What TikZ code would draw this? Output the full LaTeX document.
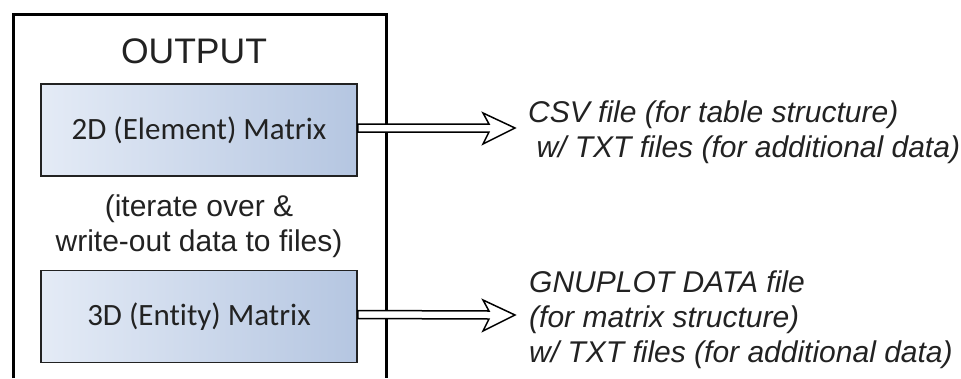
\documentclass[tikz,border=0pt]{standalone}
\usepackage{fontspec}
\setmainfont{Liberation Sans}
\newfontfamily\boxfont[Ligatures={NoCommon,NoRare}]{Carlito}
\usetikzlibrary{calc}
\definecolor{ink}{HTML}{222222}
\definecolor{boxleft}{HTML}{E4EBF6}
\definecolor{boxright}{HTML}{B5C6E1}
\tikzset{
  matbox/.style={draw=ink, line width=1.5pt, minimum width=316pt, minimum height=92pt,
    left color=boxleft, right color=boxright, inner sep=0pt,
    font=\boxfont\fontsize{31}{36}\selectfont, text=ink},
  heading/.style={font=\fontsize{35.5}{40}\selectfont, text=ink},
  note/.style={font=\fontsize{30}{35}\selectfont, text=ink, align=center},
  target/.style={font=\itshape\fontsize{30}{35}\selectfont, text=ink, align=left,
    anchor=west, inner sep=0pt},
  frame/.style={draw=black, line width=3pt},
  hollowarrow/.style={draw=black, line width=1.5pt, fill=white, line join=miter}
}
\begin{document}
\begin{tikzpicture}[x=1pt, y=-1pt]
  \useasboundingbox (0,0) rectangle (961,378);
  % container (open at the bottom)
  \draw[frame] (13,378) -- (13,14) -- (386,14) -- (386,378);
  \node[heading] (title) at (194,51) {OUTPUT};
  \node[matbox] (m2) at (199,130) {2D (Element) Matrix};
  \node[note] (iter) at (199,226) {(iterate over \&\\write-out data to files)};
  \node[matbox] (m3) at (199,316.5) {3D (Entity) Matrix};
  % arrow tips and output descriptions
  \coordinate (t2) at (515,128);
  \coordinate (t3) at (515,315);
  \foreach \src/\tip in {m2/t2, m3/t3}{
    \draw[hollowarrow]
      ($(\src.east)+(0,-6)$) -- ($(\tip)+(-26,-4)$) -- ($(\tip)+(-32,-15)$) -- (\tip)
      -- ($(\tip)+(-32,16)$) -- ($(\tip)+(-26,4)$) -- ($(\src.east)+(0,2)$) -- cycle;
  }
  \node[target] (csv) at (528,132) {CSV file (for table structure)\\\ w/ TXT files (for additional data)};
  \node[target] (gnu) at (529,320) {GNUPLOT DATA file\\(for matrix structure)\\w/ TXT files (for additional data)};
\end{tikzpicture}
\end{document}
